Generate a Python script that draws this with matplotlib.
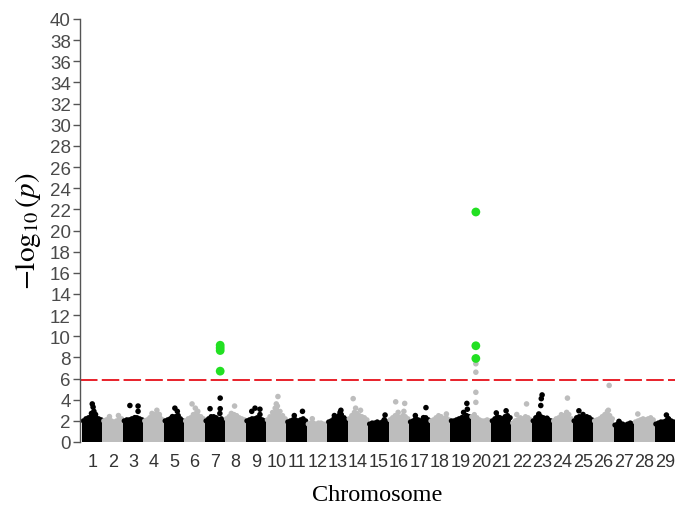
import matplotlib
matplotlib.use("Agg")
import matplotlib.pyplot as plt
import numpy as np

plt.rcParams["mathtext.fontset"] = "stix"

chromosomes = list(range(1, 30))
threshold = 5.9

# envelope heights of the dense cloud, left to right, per chromosome
band = [
    [2.0, 2.2, 2.3, 2.4, 2.5, 2.3, 2.2, 2.1],
    [2.0, 2.1, 2.2, 2.0, 1.9, 2.0, 2.1, 2.2],
    [2.0, 2.1, 2.1, 2.2, 2.2, 2.3, 2.2, 2.1],
    [2.0, 2.1, 2.3, 2.5, 2.6, 2.4, 2.3, 2.1],
    [2.0, 2.1, 2.2, 2.3, 2.4, 2.3, 2.2, 2.0],
    [2.0, 2.2, 2.3, 2.6, 2.7, 2.5, 2.4, 2.2],
    [2.0, 2.2, 2.4, 2.4, 2.3, 2.1, 2.2, 2.0],
    [2.2, 2.4, 2.6, 2.6, 2.5, 2.3, 2.2, 2.1],
    [2.0, 2.1, 2.2, 2.2, 2.3, 2.2, 2.1, 2.0],
    [2.1, 2.4, 2.8, 3.2, 3.4, 2.9, 2.5, 2.2],
    [1.9, 2.0, 2.1, 2.1, 2.0, 2.1, 2.2, 2.0],
    [1.7, 1.8, 1.8, 1.7, 1.8, 1.8, 1.7, 1.7],
    [1.9, 2.0, 2.2, 2.3, 2.5, 2.6, 2.3, 2.1],
    [2.2, 2.5, 2.8, 2.7, 2.5, 2.4, 2.3, 2.1],
    [1.7, 1.8, 1.8, 1.9, 1.8, 1.9, 2.0, 1.9],
    [2.1, 2.3, 2.5, 2.4, 2.3, 2.5, 2.4, 2.2],
    [1.9, 2.0, 2.2, 2.1, 2.0, 2.2, 2.3, 2.1],
    [2.0, 2.1, 2.3, 2.5, 2.4, 2.2, 2.3, 2.1],
    [2.0, 2.0, 2.1, 2.2, 2.2, 2.3, 2.5, 2.4],
    [2.4, 2.6, 2.3, 2.1, 2.0, 2.0, 2.1, 2.0],
    [2.0, 2.2, 2.4, 2.3, 2.2, 2.4, 2.5, 2.3],
    [1.8, 2.0, 2.1, 2.3, 2.2, 2.4, 2.3, 2.1],
    [2.0, 2.3, 2.5, 2.4, 2.3, 2.2, 2.1, 2.0],
    [2.0, 2.2, 2.3, 2.6, 2.5, 2.4, 2.6, 2.2],
    [2.0, 2.3, 2.4, 2.3, 2.2, 2.4, 2.3, 2.1],
    [2.0, 2.1, 2.2, 2.4, 2.6, 2.9, 2.5, 2.2],
    [1.6, 1.7, 1.8, 1.7, 1.6, 1.7, 1.8, 1.7],
    [1.9, 2.0, 2.1, 2.2, 2.1, 2.2, 2.3, 2.1],
    [1.7, 1.8, 1.9, 1.9, 2.0, 2.2, 2.0, 1.9],
]

# individual SNPs above the cloud: (relative position in chromosome, -log10 p)
points = [
    [(0.5, 3.6), (0.55, 3.3), (0.6, 2.9), (0.45, 2.7), (0.7, 2.6)],
    [(0.3, 2.4), (0.85, 2.5)],
    [(0.3, 3.45), (0.8, 3.4), (0.8, 2.9), (0.6, 2.3)],
    [(0.7, 3.0), (0.4, 2.7), (0.85, 2.6)],
    [(0.55, 3.2), (0.7, 2.9), (0.4, 2.4), (0.75, 2.5)],
    [(0.35, 3.6), (0.55, 3.2), (0.7, 2.9)],
    [(0.82, 4.15), (0.82, 3.15), (0.2, 3.15), (0.8, 2.7)],
    [(0.45, 3.4), (0.25, 2.7)],
    [(0.25, 2.9), (0.45, 3.2), (0.75, 3.1), (0.75, 2.6)],
    [(0.6, 4.3), (0.5, 3.6)],
    [(0.85, 2.9), (0.35, 2.5)],
    [(0.2, 2.2)],
    [(0.7, 3.0), (0.3, 2.5), (0.65, 2.8)],
    [(0.2, 4.1), (0.35, 3.2), (0.65, 3.0)],
    [(0.9, 2.55), (0.85, 2.1)],
    [(0.3, 3.8), (0.85, 3.65), (0.45, 2.8), (0.8, 2.9)],
    [(0.9, 3.25), (0.25, 2.5), (0.75, 2.3)],
    [(0.9, 2.65)],
    [(0.9, 3.65), (0.93, 3.1), (0.7, 2.8), (0.6, 2.3)],
    [(0.2, 4.7), (0.2, 3.75), (0.2, 6.6), (0.2, 7.4)],
    [(0.2, 2.75), (0.4, 2.25), (0.8, 2.95)],
    [(0.8, 3.6), (0.2, 2.6)],
    [(0.5, 4.45), (0.45, 4.1), (0.42, 3.45), (0.3, 2.65), (0.8, 2.25)],
    [(0.8, 4.15), (0.75, 2.8)],
    [(0.25, 2.95), (0.5, 2.6)],
    [(0.85, 5.35), (0.8, 3.0)],
    [(0.2, 1.95)],
    [(0.1, 2.65)],
    [(0.6, 2.55), (0.7, 2.2)],
]

# significant SNPs (highlighted): (chromosome, relative position, -log10 p)
sig_chrom = [7, 7, 7, 7, 20, 20, 20]
sig_pos = [0.82, 0.82, 0.82, 0.82, 0.2, 0.2, 0.2]
sig_val = [6.7, 8.65, 8.9, 9.15, 7.9, 9.1, 21.75]

yticks = list(range(0, 41, 2))

dark = "#000000"
light = "#bdbdbd"
green = "#22e022"

fig = plt.figure(figsize=(6.76, 5.06), dpi=100)
ax = fig.add_axes([80 / 676, 63 / 506, 595 / 676, 423 / 506])

for i, ch in enumerate(chromosomes):
    col = dark if i % 2 == 0 else light
    env = band[i]
    n = len(env)
    w = 1.0 / n
    xs = [i + (k + 0.5) * w for k in range(n)]
    ax.bar(xs, env, width=w * 1.02, color=col, edgecolor="none", zorder=2)
    ax.scatter(xs, env, s=14, color=col, edgecolors="none", zorder=2)
    px = [i + 0.1 + 0.8 * p for p, v in points[i]]
    pv = [v for p, v in points[i]]
    ax.scatter(px, pv, s=16, color=col, edgecolors="none", zorder=3)

sx = [c - 1 + 0.1 + 0.8 * p for c, p in zip(sig_chrom, sig_pos)]
ax.scatter(sx, sig_val, s=40, color=green, edgecolors="none", zorder=4)

ax.axhline(threshold, color="#e8202a", lw=1.4, dashes=(9, 2.2), zorder=1)

ax.set_xlim(-0.1, 29.0)
ax.set_ylim(0, 40)
ax.set_yticks(yticks)
ax.set_xticks([c - 0.5 for c in chromosomes])
ax.set_xticklabels([str(c) for c in chromosomes])

for s in ["top", "right", "bottom"]:
    ax.spines[s].set_visible(False)
ax.spines["left"].set_color("#555555")
ax.spines["left"].set_linewidth(1.0)

ax.tick_params(axis="y", colors="#555555", labelcolor="#4a4a4a", length=5,
               width=1.0, labelsize=13.5, pad=1.5)
ax.tick_params(axis="x", length=0, labelcolor="#333333", labelsize=13, pad=8)
for lab in ax.get_yticklabels() + ax.get_xticklabels():
    lab.set_fontfamily("Liberation Sans")

ax.set_ylabel(r"$-\log_{10}(p)$", fontsize=21, labelpad=5)
ax.set_xlabel("Chromosome", fontsize=17.5, family="Liberation Serif", labelpad=10)

fig.savefig("out.png", dpi=100)
